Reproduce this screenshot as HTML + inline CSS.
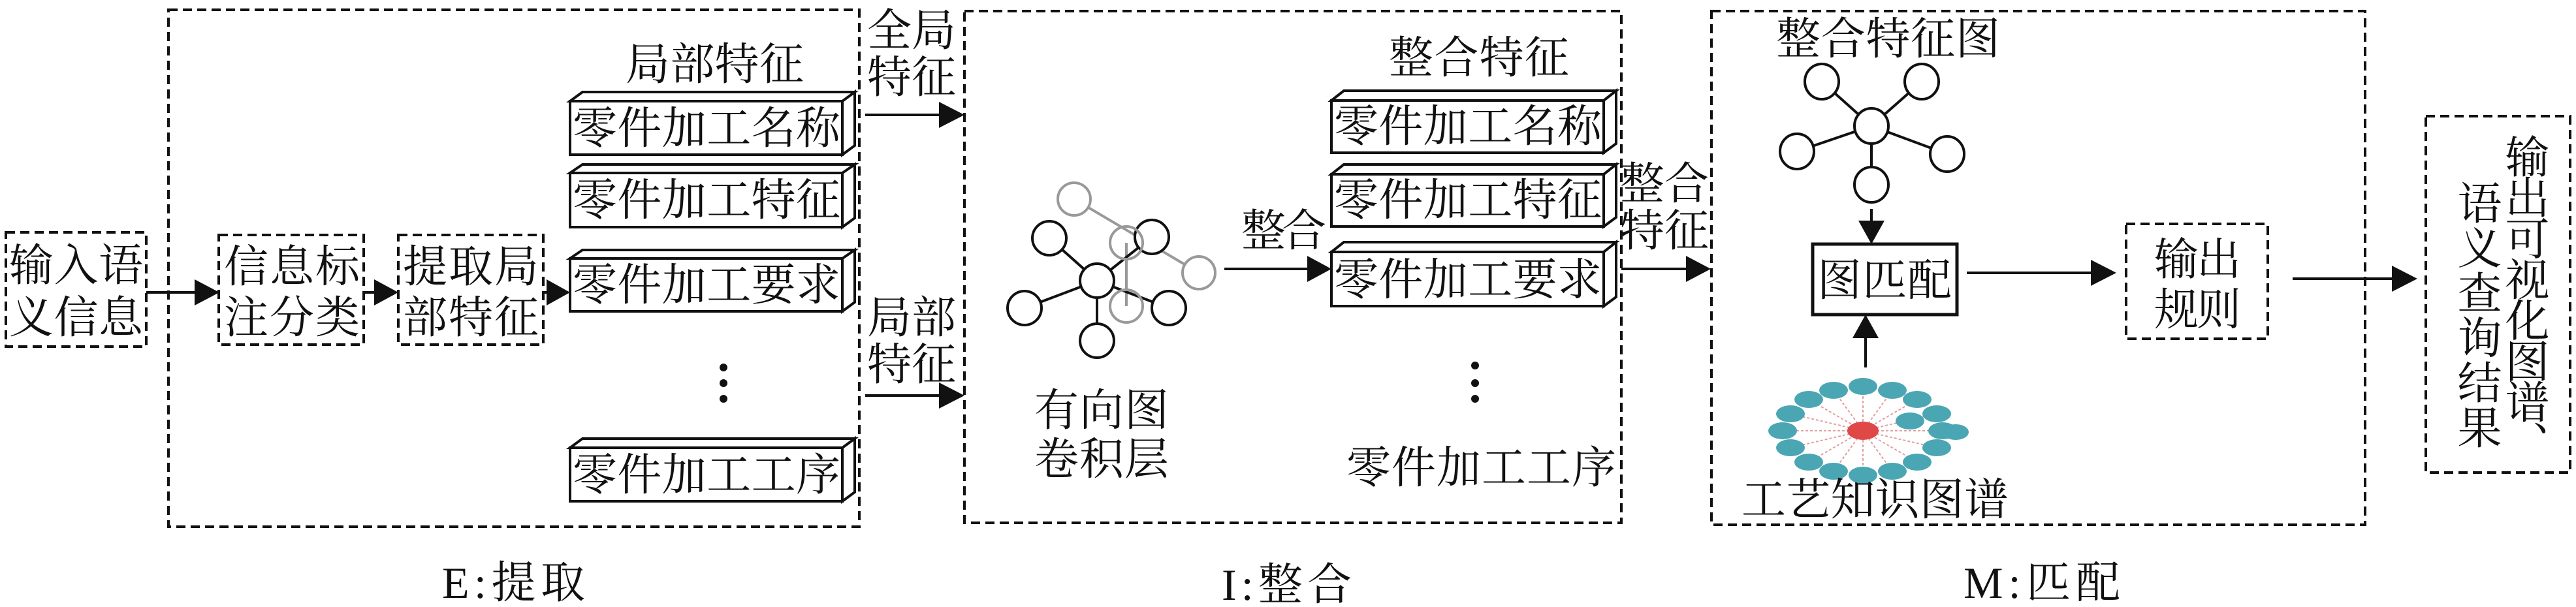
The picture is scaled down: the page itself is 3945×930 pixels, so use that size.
<!DOCTYPE html>
<html><head><meta charset="utf-8"><style>
html,body{margin:0;padding:0;background:#fff;}
svg{display:block;}
text{font-family:"Liberation Serif","Noto Serif CJK SC",serif;fill:#111;}
</style></head><body>
<svg width="3945" height="930" viewBox="0 0 3945 930" xmlns="http://www.w3.org/2000/svg">
<defs>
<marker id="ar" markerWidth="10" markerHeight="10" refX="9" refY="5" orient="auto" markerUnits="userSpaceOnUse" viewBox="0 0 10 10">
<path d="M0,0 L10,5 L0,10 z" fill="#111"/></marker>
</defs>
<g fill="none" stroke="#111" stroke-width="4" stroke-dasharray="14 8">
<rect x="9" y="356" width="215" height="175"/>
<rect x="258" y="15" width="1058" height="792"/>
<rect x="335" y="360" width="222" height="168"/>
<rect x="610" y="360" width="222" height="168"/>
<rect x="1477" y="17" width="1006" height="784"/>
<rect x="2621" y="17" width="1001" height="787"/>
<rect x="3256" y="343" width="217" height="176"/>
<rect x="3715" y="178" width="221" height="546"/>
</g>
<!-- arrows -->
<g stroke="#111" stroke-width="4" fill="#111">
<line x1="224" y1="448" x2="300" y2="448"/><path d="M298,428 L336,448 L298,468z" stroke="none"/>
<line x1="557" y1="448" x2="575" y2="448"/><path d="M573,428 L610,448 L573,468z" stroke="none"/>
<line x1="832" y1="448" x2="840" y2="448"/><path d="M837,428 L873,448 L837,468z" stroke="none"/>
<line x1="1325" y1="176" x2="1440" y2="176"/><path d="M1438,156 L1477,176 L1438,196z" stroke="none"/>
<line x1="1325" y1="606" x2="1440" y2="606"/><path d="M1438,586 L1477,606 L1438,626z" stroke="none"/>
<line x1="1875" y1="412" x2="2005" y2="412"/><path d="M2002,392 L2039,412 L2002,432z" stroke="none"/>
<line x1="2483" y1="412" x2="2585" y2="412"/><path d="M2582,392 L2620,412 L2582,432z" stroke="none"/>
<line x1="2866" y1="320" x2="2866" y2="340"/><path d="M2846,338 L2866,374 L2886,338z" stroke="none"/>
<line x1="2857" y1="563" x2="2857" y2="515"/><path d="M2837,518 L2857,482 L2877,518z" stroke="none"/>
<line x1="3012" y1="418" x2="3205" y2="418"/><path d="M3202,398 L3241,418 L3202,438z" stroke="none"/>
<line x1="3511" y1="427" x2="3665" y2="427"/><path d="M3663,407 L3702,427 L3663,447z" stroke="none"/>
</g>
<!-- 3D boxes -->
<g fill="#fff" stroke="#111" stroke-width="4" stroke-linejoin="miter">
<path d="M873,155 L892,141 L1309,141 L1290,155z M1290,155 L1309,141 L1309,223 L1290,237z"/><rect x="873" y="155" width="417" height="82"/>
<path d="M873,265 L892,252 L1309,252 L1290,265z M1290,265 L1309,252 L1309,334 L1290,348z"/><rect x="873" y="265" width="417" height="83"/>
<path d="M873,396 L892,383 L1309,383 L1290,396z M1290,396 L1309,383 L1309,463 L1290,477z"/><rect x="873" y="396" width="417" height="81"/>
<path d="M873,686 L892,672 L1309,672 L1290,686z M1290,686 L1309,672 L1309,754 L1290,768z"/><rect x="873" y="686" width="417" height="82"/>
<path d="M2039,154 L2058,139 L2475,139 L2456,154z M2456,154 L2475,139 L2475,220 L2456,234z"/><rect x="2039" y="154" width="417" height="80"/>
<path d="M2039,267 L2058,252 L2475,252 L2456,267z M2456,267 L2475,252 L2475,333 L2456,347z"/><rect x="2039" y="267" width="417" height="80"/>
<path d="M2039,386 L2058,371 L2475,371 L2456,386z M2456,386 L2475,371 L2475,455 L2456,469z"/><rect x="2039" y="386" width="417" height="83"/>
</g>
<rect x="2776" y="374" width="221" height="108" fill="none" stroke="#111" stroke-width="5"/>
<!-- dots -->
<g fill="#111"><circle cx="1108" cy="563" r="6"/><circle cx="1108" cy="587" r="6"/><circle cx="1108" cy="611" r="6"/>
<circle cx="2259" cy="560" r="6"/><circle cx="2259" cy="587" r="6"/><circle cx="2259" cy="611" r="6"/></g>
<!-- GCN graph -->
<g stroke="#999" stroke-width="4" fill="none">
<line x1="1645" y1="305" x2="1836" y2="418"/><line x1="1725" y1="372" x2="1725" y2="469"/>
<circle cx="1645" cy="305" r="25" fill="#fff"/><circle cx="1836" cy="418" r="25" fill="#fff"/>
</g>
<g stroke="#111" stroke-width="4" fill="none">
<line x1="1680" y1="430" x2="1607" y2="365"/><line x1="1680" y1="430" x2="1764" y2="363"/>
<line x1="1680" y1="430" x2="1569" y2="472"/><line x1="1680" y1="430" x2="1790" y2="472"/>
<line x1="1680" y1="430" x2="1680" y2="522"/>
<circle cx="1607" cy="365" r="26" fill="#fff"/><circle cx="1764" cy="363" r="26" fill="#fff"/>
<circle cx="1680" cy="430" r="26" fill="#fff"/><circle cx="1569" cy="472" r="26" fill="#fff"/>
<circle cx="1790" cy="472" r="26" fill="#fff"/><circle cx="1680" cy="522" r="26" fill="#fff"/>
</g>
<g stroke="#999" stroke-width="4" fill="none"><circle cx="1725" cy="372" r="25"/><circle cx="1725" cy="469" r="25"/></g>
<!-- feature graph -->
<g stroke="#111" stroke-width="4" fill="#fff">
<line x1="2866" y1="193" x2="2790" y2="125"/><line x1="2866" y1="193" x2="2943" y2="125"/>
<line x1="2866" y1="193" x2="2752" y2="232"/><line x1="2866" y1="193" x2="2982" y2="236"/>
<line x1="2866" y1="193" x2="2866" y2="283"/>
<ellipse cx="2790" cy="125" rx="26" ry="27"/><ellipse cx="2943" cy="125" rx="26" ry="27"/>
<ellipse cx="2866" cy="193" rx="26" ry="27"/><ellipse cx="2752" cy="232" rx="26" ry="27"/>
<ellipse cx="2982" cy="236" rx="26" ry="27"/><ellipse cx="2866" cy="283" rx="26" ry="27"/>
</g>
<!-- knowledge graph -->
<g stroke="#e0a0a0" stroke-width="2" stroke-dasharray="4 3">
<line x1="2853" y1="660" x2="2975" y2="660"/><line x1="2853" y1="660" x2="2966" y2="686"/><line x1="2853" y1="660" x2="2936" y2="708"/>
<line x1="2853" y1="660" x2="2898" y2="722"/><line x1="2853" y1="660" x2="2853" y2="728"/><line x1="2853" y1="660" x2="2808" y2="722"/>
<line x1="2853" y1="660" x2="2770" y2="708"/><line x1="2853" y1="660" x2="2742" y2="686"/><line x1="2853" y1="660" x2="2730" y2="660"/>
<line x1="2853" y1="660" x2="2742" y2="634"/><line x1="2853" y1="660" x2="2770" y2="612"/><line x1="2853" y1="660" x2="2808" y2="598"/>
<line x1="2853" y1="660" x2="2853" y2="592"/><line x1="2853" y1="660" x2="2898" y2="598"/><line x1="2853" y1="660" x2="2936" y2="612"/>
<line x1="2853" y1="660" x2="2966" y2="634"/>
</g>
<g fill="#4ba6b4">
<ellipse cx="2975" cy="660" rx="22" ry="13"/><ellipse cx="2966" cy="686" rx="22" ry="13"/><ellipse cx="2936" cy="708" rx="22" ry="13"/>
<ellipse cx="2898" cy="722" rx="22" ry="13"/><ellipse cx="2853" cy="728" rx="22" ry="13"/><ellipse cx="2808" cy="722" rx="22" ry="13"/>
<ellipse cx="2770" cy="708" rx="22" ry="13"/><ellipse cx="2742" cy="686" rx="22" ry="13"/><ellipse cx="2730" cy="660" rx="22" ry="13"/>
<ellipse cx="2742" cy="634" rx="22" ry="13"/><ellipse cx="2770" cy="612" rx="22" ry="13"/><ellipse cx="2808" cy="598" rx="22" ry="13"/>
<ellipse cx="2853" cy="592" rx="22" ry="13"/><ellipse cx="2898" cy="598" rx="22" ry="13"/><ellipse cx="2936" cy="612" rx="22" ry="13"/>
<ellipse cx="2966" cy="634" rx="22" ry="13"/><ellipse cx="2925" cy="645" rx="22" ry="13"/><ellipse cx="2995" cy="662" rx="20" ry="12"/>
</g>
<ellipse cx="2853" cy="660" rx="24" ry="14" fill="#e04848"/>
<!-- text -->
<g font-size="68">
<text x="14" y="430" textLength="205">输入语</text>
<text x="14" y="510" textLength="205">义信息</text>
<text x="343" y="432" textLength="208">信息标</text>
<text x="343" y="510" textLength="208">注分类</text>
<text x="617" y="432" textLength="208">提取局</text>
<text x="617" y="510" textLength="208">部特征</text>
<text x="958" y="122" textLength="273">局部特征</text>
<text x="877" y="220" textLength="410">零件加工名称</text>
<text x="877" y="330" textLength="410">零件加工特征</text>
<text x="877" y="460" textLength="410">零件加工要求</text>
<text x="877" y="751" textLength="410">零件加工工序</text>
<text x="1328" y="70" textLength="136">全局</text>
<text x="1328" y="142" textLength="136">特征</text>
<text x="1328" y="510" textLength="136">局部</text>
<text x="1328" y="582" textLength="136">特征</text>
<text x="2127" y="112" textLength="276">整合特征</text>
<text x="2043" y="217" textLength="410">零件加工名称</text>
<text x="2043" y="330" textLength="410">零件加工特征</text>
<text x="2043" y="452" textLength="410">零件加工要求</text>
<text x="2062" y="740" textLength="413">零件加工工序</text>
<text x="1901" y="377" textLength="130">整合</text>
<text x="2481" y="305" textLength="136">整合</text>
<text x="2481" y="377" textLength="136">特征</text>
<text x="1584" y="652" textLength="206">有向图</text>
<text x="1584" y="727" textLength="206">卷积层</text>
<text x="2720" y="83" textLength="343">整合特征图</text>
<text x="2783" y="453" textLength="206">图匹配</text>
<text x="2667" y="789" textLength="409">工艺知识图谱</text>
<text x="3299" y="421" textLength="133">输出</text>
<text x="3299" y="498" textLength="133">规则</text>
<text x="677" y="916" textLength="219">E:提取</text>
<text x="1871" y="919" textLength="199">I:整合</text>
<text x="3007" y="916" textLength="240">M:匹配</text>
<text x="3865" y="205" writing-mode="tb" textLength="507">输出可视化图谱、</text>
<text x="3792" y="276" writing-mode="tb" textLength="412">语义查询结果</text>
</g>
</svg>
</body></html>
